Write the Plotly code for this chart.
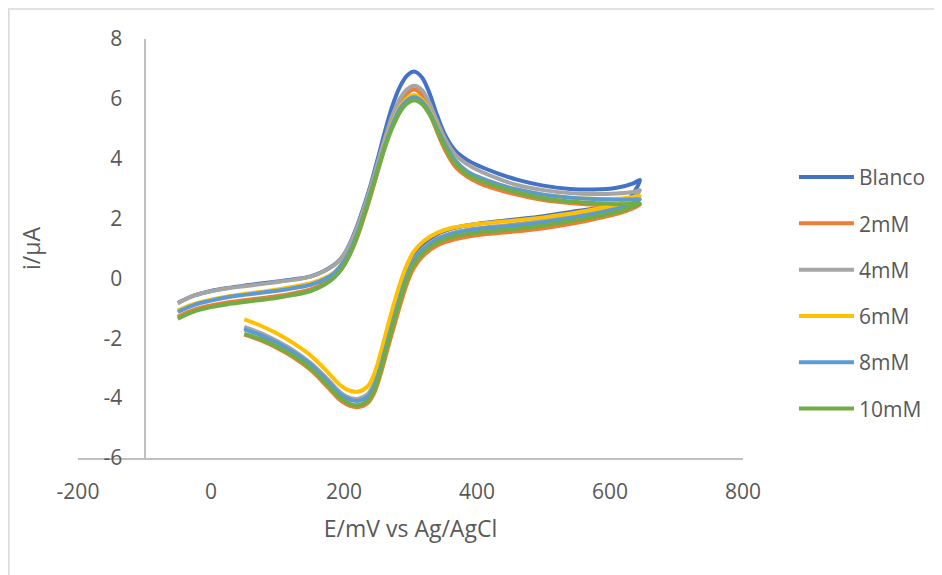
import plotly.graph_objects as go

# Potential scan (mV vs Ag/AgCl): forward branch then reverse branch
E_fwd = [50, 75, 100, 125, 150, 175, 195, 210, 222, 235, 245, 255, 265, 275, 285,
         295, 305, 320, 340, 365, 400, 450, 500, 550, 600, 625, 645]
E_rev = [635, 610, 575, 540, 500, 460, 430, 405, 385, 368, 353, 340, 328, 317, 306,
         295, 284, 273, 262, 251, 240, 229, 218, 207, 196, 185, 170, 150, 125, 100,
         75, 50, 25, 0, -25, -50]
E = E_fwd + E_rev

# Currents (µA)
blanco_fwd = [-1.66, -1.87, -2.13, -2.45, -2.86, -3.40, -3.86, -4.04, -4.06, -3.93, -3.55, -2.85, -2.02,
              -1.20, -0.45, 0.22, 0.72, 1.15, 1.48, 1.68, 1.82, 1.95, 2.08, 2.25, 2.42, 2.58, 3.29]
blanco_rev = [3.18, 3.03, 2.97, 2.99, 3.10, 3.30, 3.52, 3.74, 3.96, 4.25, 4.75, 5.45, 6.22, 6.72, 6.91,
              6.78, 6.40, 5.78, 4.95, 4.02, 3.12, 2.35, 1.65, 1.08, 0.68, 0.45, 0.25, 0.07, -0.03,
              -0.10, -0.17, -0.24, -0.32, -0.42, -0.57, -0.82]

mM2_fwd = [-1.88, -2.07, -2.33, -2.65, -3.06, -3.62, -4.08, -4.27, -4.30, -4.18, -3.85, -3.20, -2.40,
           -1.62, -0.85, -0.15, 0.35, 0.78, 1.10, 1.30, 1.44, 1.55, 1.68, 1.86, 2.10, 2.26, 2.45]
mM2_rev = [2.43, 2.43, 2.46, 2.52, 2.62, 2.80, 2.98, 3.17, 3.40, 3.72, 4.25, 4.90, 5.60, 6.12, 6.31,
           6.18, 5.82, 5.22, 4.45, 3.60, 2.75, 1.97, 1.27, 0.72, 0.31, 0.05, -0.17, -0.37, -0.49,
           -0.59, -0.66, -0.73, -0.80, -0.90, -1.04, -1.28]

mM4_fwd = [-1.62, -1.83, -2.10, -2.42, -2.83, -3.36, -3.82, -4.00, -4.02, -3.88, -3.52, -2.86, -2.06,
           -1.27, -0.52, 0.14, 0.62, 1.02, 1.33, 1.53, 1.67, 1.79, 1.93, 2.11, 2.35, 2.52, 2.95]
mM4_rev = [2.89, 2.84, 2.82, 2.85, 2.95, 3.12, 3.35, 3.58, 3.82, 4.12, 4.62, 5.25, 5.88, 6.30, 6.44,
           6.32, 6.00, 5.45, 4.72, 3.90, 3.05, 2.28, 1.60, 1.05, 0.68, 0.44, 0.24, 0.06, -0.04,
           -0.12, -0.19, -0.26, -0.33, -0.43, -0.57, -0.83]

mM6_fwd = [-1.37, -1.58, -1.85, -2.18, -2.58, -3.12, -3.58, -3.76, -3.78, -3.62, -3.22, -2.50, -1.66,
           -0.85, -0.12, 0.48, 0.90, 1.25, 1.52, 1.70, 1.82, 1.92, 2.04, 2.20, 2.42, 2.56, 2.75]
mM6_rev = [2.72, 2.66, 2.66, 2.70, 2.80, 2.97, 3.16, 3.36, 3.58, 3.92, 4.45, 5.05, 5.62, 5.98, 6.13,
           6.02, 5.72, 5.20, 4.52, 3.72, 2.90, 2.12, 1.42, 0.87, 0.47, 0.20, 0.00, -0.16, -0.27,
           -0.37, -0.45, -0.52, -0.60, -0.71, -0.85, -1.07]

mM8_fwd = [-1.70, -1.90, -2.16, -2.48, -2.88, -3.42, -3.88, -4.06, -4.09, -3.96, -3.62, -2.95, -2.14,
           -1.33, -0.57, 0.10, 0.58, 0.98, 1.30, 1.50, 1.64, 1.75, 1.88, 2.05, 2.27, 2.42, 2.64]
mM8_rev = [2.64, 2.63, 2.65, 2.70, 2.80, 2.97, 3.16, 3.36, 3.58, 3.92, 4.45, 5.02, 5.58, 5.92, 6.05,
           5.95, 5.67, 5.15, 4.48, 3.70, 2.88, 2.10, 1.40, 0.85, 0.45, 0.17, -0.04, -0.21, -0.32,
           -0.41, -0.48, -0.55, -0.63, -0.74, -0.88, -1.12]

mM10_fwd = [-1.85, -2.03, -2.29, -2.60, -3.00, -3.55, -4.00, -4.20, -4.23, -4.10, -3.76, -3.08, -2.25,
            -1.45, -0.68, 0.00, 0.48, 0.88, 1.20, 1.40, 1.53, 1.64, 1.77, 1.95, 2.17, 2.32, 2.50]
mM10_rev = [2.49, 2.48, 2.52, 2.57, 2.68, 2.88, 3.07, 3.26, 3.48, 3.82, 4.35, 4.95, 5.50, 5.83, 5.95,
            5.85, 5.55, 5.05, 4.40, 3.62, 2.80, 2.02, 1.30, 0.72, 0.30, 0.02, -0.22, -0.42, -0.55,
            -0.65, -0.72, -0.79, -0.86, -0.96, -1.10, -1.35]

names = ["Blanco", "2mM", "4mM", "6mM", "8mM", "10mM"]
currents = [blanco_fwd + blanco_rev, mM2_fwd + mM2_rev, mM4_fwd + mM4_rev,
            mM6_fwd + mM6_rev, mM8_fwd + mM8_rev, mM10_fwd + mM10_rev]
colors = ["#4472C4", "#ED7D31", "#A5A5A5", "#FFC000", "#5B9BD5", "#70AD47"]

x_tickvals = [-200, 0, 200, 400, 600, 800]
x_ticktext = ["-200", "0", "200", "400", "600", "800"]
y_tickvals = [-6, -4, -2, 0, 2, 4, 6, 8]
y_ticktext = ["-6", "-4", "-2", "0", "2", "4", "6", "8"]

FONT = "Open Sans"
TXT = "#595959"
AX = "#bfbfbf"

fig = go.Figure()
for n, c, col in zip(names, currents, colors):
    fig.add_trace(go.Scatter(
        x=E, y=c, mode="lines", name=n, legendgroup=n,
        line=dict(color=col, width=4, shape="spline", smoothing=1.0),
    ))

fig.update_layout(
    width=934, height=567,
    paper_bgcolor="white", plot_bgcolor="white",
    margin=dict(l=70, r=198, t=31, b=117),
    font=dict(family=FONT, size=21, color=TXT),
    showlegend=True,
    legend=dict(x=1.075, y=0.394, xanchor="left", yanchor="middle",
                font=dict(family=FONT, size=21, color=TXT),
                tracegroupgap=16, itemwidth=55, bgcolor="rgba(0,0,0,0)"),
    xaxis=dict(range=[-200, 800], tickvals=x_tickvals, ticktext=x_ticktext,
               showgrid=False, zeroline=False,
               showline=True, linecolor=AX, linewidth=2, ticks="",
               ticklabelstandoff=14,
               title=dict(text="E/mV vs Ag/AgCl", standoff=17,
                          font=dict(family=FONT, size=23, color=TXT))),
    yaxis=dict(range=[-6, 8], tickvals=y_tickvals, ticktext=y_ticktext,
               showgrid=False, zeroline=False,
               anchor="free", position=0.1,
               showline=True, linecolor=AX, linewidth=2, ticks="",
               ticklabelstandoff=17,
               title=dict(text="i/μA", standoff=55,
                          font=dict(family=FONT, size=23, color=TXT))),
    shapes=[dict(type="rect", xref="paper", yref="paper",
                 x0=-0.104, x1=1.4, y0=-0.5, y1=1.0716,
                 line=dict(color="#d9d9d9", width=1.5), layer="below")],
)

fig.write_html("out.html")
